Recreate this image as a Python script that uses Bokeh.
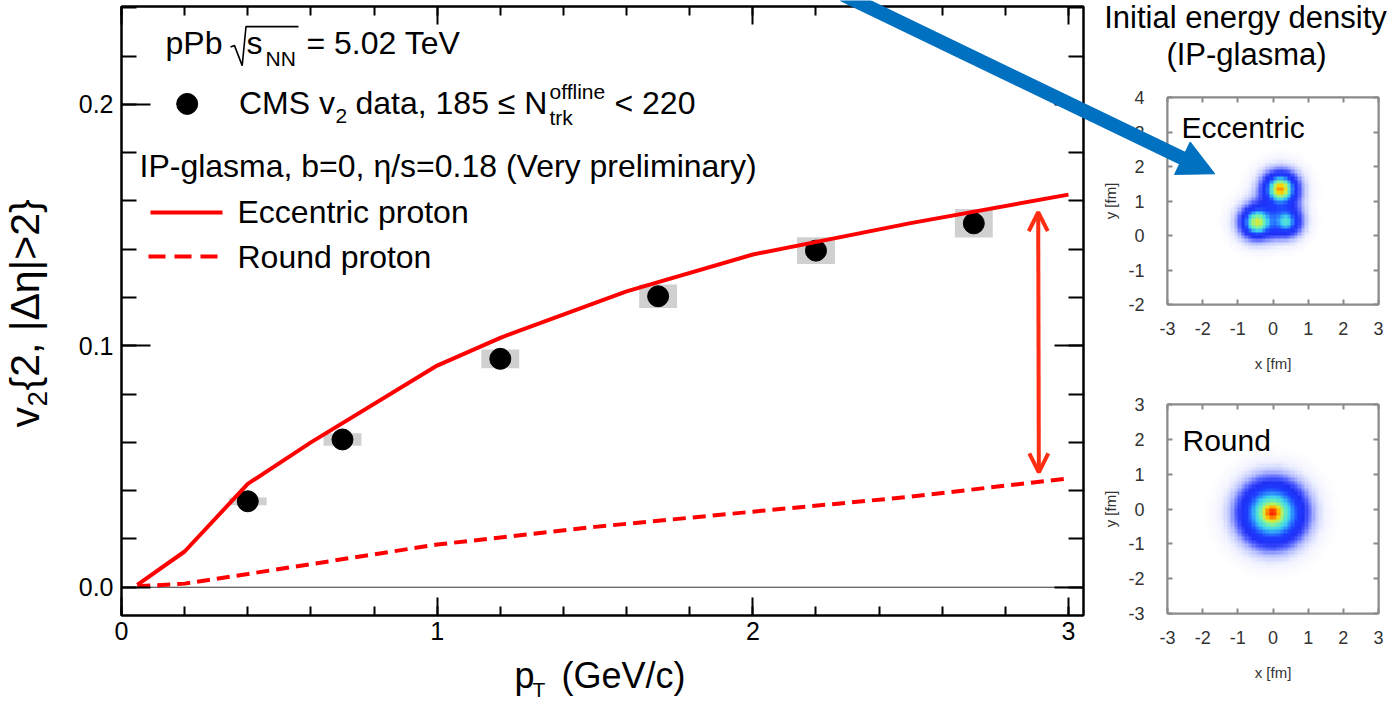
import numpy as np
from bokeh.plotting import figure
from bokeh.models import (Range1d, LinearAxis, FixedTicker, NumeralTickFormatter, GridBox,
                          Label, Span, Arrow, NormalHead, OpenHead, LinearColorMapper,
                          CustomLabelingPolicy)
from bokeh.layouts import row, column
from bokeh.embed import file_html
from bokeh.resources import INLINE

FONT = "Liberation Sans"
RED = "#ff0000"
ARROW_RED = "#ff2d12"
BLUE = "#0070c0"
K_BASE = 0.34   # empirical shift between label anchor and drawn baseline (in em)

# ------------------------------------------------------------------ data
pt_data = [0.4, 0.7, 1.2, 1.7, 2.2, 2.7]
v2_data = [0.0356, 0.0612, 0.0946, 0.1205, 0.1394, 0.1507]
v2_sys = [0.0016, 0.0026, 0.0039, 0.0049, 0.0055, 0.0059]
pt_sys_halfwidth = [0.06, 0.06, 0.06, 0.06, 0.06, 0.06]

pt_eccentric = [0.05, 0.2, 0.4, 0.6, 1.0, 1.2, 1.6, 2.0, 2.5, 3.0]
v2_eccentric = [0.001, 0.0148, 0.0428, 0.060, 0.0918, 0.1033, 0.1225, 0.1378, 0.1508, 0.1626]

pt_round = [0.05, 0.2, 0.4, 1.0, 1.5, 2.0, 2.5, 3.0]
v2_round = [0.0004, 0.0015, 0.0055, 0.0177, 0.0250, 0.0313, 0.0375, 0.0451]

x_major_ticks = [0, 1, 2, 3]
y_major_ticks = [0.0, 0.1, 0.2]
fm_ticks = [-3, -2, -1, 0, 1, 2, 3]
fm_ticks_top = [-2, -1, 0, 1, 2, 3, 4]

# hot spots of the initial energy density (fm, relative amplitude)
ecc_hx = [0.21, -0.45, 0.38]
ecc_hy = [1.35, 0.39, 0.40]
ecc_core_amp = [0.50, 0.38, 0.18]
ecc_core_sig = [0.20, 0.20, 0.16]
ecc_base_amp = [0.38, 0.34, 0.30]
ecc_base_sig = [0.38, 0.37, 0.33]

rnd_hx = [-0.02]
rnd_hy = [-0.12]
rnd_core_amp = [0.38]
rnd_core_sig = [0.18]
rnd_base_amp = [0.62]
rnd_base_sig = [0.60]

# colour scale (white -> blue -> cyan -> yellow -> red)
cmap_anchors = [(0.00, "#ffffff"), (0.03, "#eef0ff"), (0.08, "#b4bcff"), (0.14, "#5060ff"),
                (0.20, "#2030f5"), (0.30, "#1c3cff"), (0.38, "#2a80ff"), (0.46, "#3ed2f0"),
                (0.58, "#70f0b0"), (0.70, "#c8f050"), (0.80, "#ffd200"), (0.90, "#ff7800"),
                (1.00, "#ff1a00")]


def h2rgb(h):
    return [int(h[i:i + 2], 16) for i in (1, 3, 5)]


palette = []
for k in range(256):
    t = k / 255
    for (t0, c0), (t1, c1) in zip(cmap_anchors[:-1], cmap_anchors[1:]):
        if t0 <= t <= t1:
            f = (t - t0) / (t1 - t0)
            a, b = h2rgb(c0), h2rgb(c1)
            palette.append("#%02x%02x%02x" % tuple(int(round(a[i] + f * (b[i] - a[i]))) for i in range(3)))
            break
mapper = LinearColorMapper(palette=palette, low=0, high=1)


def density(xc, yc, hx, hy, ca, cs, ba, bs):
    X, Y = np.meshgrid(xc, yc)
    f = np.zeros_like(X)
    for i in range(len(hx)):
        r2 = (X - hx[i]) ** 2 + (Y - hy[i]) ** 2
        f += ca[i] * np.exp(-r2 / (2 * cs[i] ** 2)) + ba[i] * np.exp(-r2 / (2 * bs[i] ** 2))
    return np.clip(f, 0, 1)


NO_LABELS = """
const out = []
for (const i of indices) out.push(i)
for (const i of out) indices.unset(i)
return indices
"""


# ------------------------------------------------------------------ helpers
def add_axis(fig, side, ticks, minor, tin, mtin, labels, size="25px", standoff=8,
             color="black", lwidth=2, label_color="black", **kw):
    ax = LinearAxis(ticker=FixedTicker(ticks=ticks, minor_ticks=minor))
    ax.axis_line_width = lwidth
    ax.axis_line_color = color
    ax.major_tick_line_color = color
    ax.minor_tick_line_color = color
    ax.major_tick_in = tin
    ax.major_tick_out = 0
    ax.minor_tick_in = mtin
    ax.minor_tick_out = 0
    ax.major_tick_line_width = lwidth
    ax.minor_tick_line_width = lwidth
    ax.major_label_text_font = FONT
    ax.major_label_text_color = label_color
    ax.axis_label_text_font = FONT
    ax.axis_label_text_font_style = "normal"
    if labels:
        ax.major_label_text_font_size = size
        ax.major_label_standoff = standoff
    else:
        ax.major_label_policy = CustomLabelingPolicy(code=NO_LABELS)
        ax.major_label_text_font_size = "0px"
        ax.major_label_standoff = 0
        ax.axis_label_standoff = 0
    for k, v in kw.items():
        setattr(ax, k, v)
    fig.add_layout(ax, side)
    return ax


def txt(fig, x, y, s, size, align="left", angle=0.0, color="black"):
    fig.add_layout(Label(x=x, y=y, text=s, text_font=FONT, text_font_size=f"{size}px",
                         text_color=color, text_align=align, text_baseline="alphabetic",
                         angle=angle))


# ------------------------------------------------------------------ main plot
p = figure(width=1090, height=704, x_range=Range1d(0, 3.0475), y_range=Range1d(-0.0117, 0.2405),
           x_axis_type=None, y_axis_type=None, output_backend="svg", toolbar_location=None,
           min_border_left=121, min_border_right=7, min_border_top=6, min_border_bottom=89)
p.outline_line_color = "black"
p.outline_line_width = 2
p.background_fill_color = "white"
p.border_fill_color = "white"

x_minor = list(np.round(np.arange(0, 3.05, 0.2), 2))
y_minor = list(np.round(np.arange(0, 0.241, 0.02), 3))

add_axis(p, "below", x_major_ticks, x_minor, 18, 9, True, standoff=6)
add_axis(p, "above", x_major_ticks, x_minor, 18, 9, False)
add_axis(p, "left", y_major_ticks, y_minor, 29, 15, True, standoff=8,
         formatter=NumeralTickFormatter(format="0.0"))
add_axis(p, "right", y_major_ticks, y_minor, 29, 15, False)

zero = Span(location=0, dimension="width", line_color="#333333", line_width=1.2, level="underlay")
p.add_layout(zero)

p.rect(x=pt_data, y=v2_data, width=[2 * w for w in pt_sys_halfwidth],
       height=[2 * s for s in v2_sys], fill_color="#d0d0d0", line_color=None)
p.scatter(pt_data, v2_data, size=21, fill_color="black", line_color="black")
p.line(pt_eccentric, v2_eccentric, line_color=RED, line_width=4)
p.line(pt_round, v2_round, line_color=RED, line_width=4, line_dash="13 7")


# pixel -> data helpers for annotation placement in the main plot
def dx(X):
    return (X - 121.0) / 315.67


def dy(Y):
    return (586.7 - Y) / 2415.0


def ptxt(X, Y, s, size):
    txt(p, dx(X), dy(Y - K_BASE * size), s, size)


# legend / annotation texts (inside the frame); Y = baseline in pixels
ptxt(165, 53, "pPb", 32)
p.line([dx(230), dx(234), dx(241.7), dx(245.5), dx(298)],
       [dy(46.5), dy(45), dy(65), dy(26), dy(26)], line_color="black", line_width=1.6)
ptxt(246, 53, "s", 32)
ptxt(265, 65, "NN", 21)
ptxt(306, 53, "= 5.02 TeV", 32)

p.scatter([dx(186.7)], [dy(103.3)], size=21, fill_color="black", line_color="black")
ptxt(238.5, 113, "CMS v", 32)
ptxt(335, 123, "2", 21)
ptxt(355, 113, "data, 185 \u2264 N", 32)
ptxt(549, 98, "offline", 21)
ptxt(549, 124, "trk", 21)
ptxt(614, 113, "< 220", 32)

ptxt(139, 176, "IP-glasma, b=0, \u03b7/s=0.18 (Very preliminary)", 32)
p.line([dx(150), dx(222)], [dy(212), dy(212)], line_color=RED, line_width=4)
ptxt(237, 222, "Eccentric proton", 32)
p.line([dx(148), dx(217)], [dy(256), dy(256)], line_color=RED, line_width=4, line_dash="17 9")
ptxt(237, 267, "Round proton", 32)

# red double arrow (gap between the two calculations)
p.add_layout(Arrow(start=OpenHead(size=19, line_color=ARROW_RED, line_width=4),
                   end=OpenHead(size=19, line_color=ARROW_RED, line_width=4),
                   x_start=2.906, y_start=0.0476, x_end=2.904, y_end=0.1553,
                   line_color=ARROW_RED, line_width=4))


# ------------------------------------------------------------------ inset panels
def make_panel(yr, height, top, bottom, yticks):
    f = figure(width=309, height=height, x_range=Range1d(-3, 3), y_range=Range1d(*yr),
               x_axis_type=None, y_axis_type=None, output_backend="svg", toolbar_location=None,
               min_border_left=77, min_border_right=21, min_border_top=top, min_border_bottom=bottom)
    f.outline_line_color = "#8a8a8a"
    f.outline_line_width = 2
    f.background_fill_color = "white"
    f.border_fill_color = "white"
    common = dict(color="#8a8a8a", lwidth=2, label_color="#333333")
    add_axis(f, "below", fm_ticks, [], 5, 0, True, size="18px", standoff=17,
             axis_label="x [fm]", axis_label_text_font_size="15px",
             axis_label_text_color="#333333", axis_label_standoff=17,
             major_label_overrides={t: str(t) for t in fm_ticks}, **common)
    add_axis(f, "left", yticks, [], 5, 0, True, size="18px", standoff=23,
             axis_label="y [fm]", axis_label_text_font_size="15px",
             axis_label_text_color="#333333", axis_label_standoff=6,
             major_label_overrides={t: str(t) for t in yticks}, **common)
    add_axis(f, "above", fm_ticks, [], 5, 0, False, **common)
    add_axis(f, "right", yticks, [], 5, 0, False, **common)
    return f


cell = 0.1
xc = np.arange(-3 + cell / 2, 3, cell)

pa = make_panel((-2, 4), 380, 97, 76, fm_ticks_top)
yc_a = np.arange(-2 + cell / 2, 4, cell)
img_a = density(xc, yc_a, ecc_hx, ecc_hy, ecc_core_amp, ecc_core_sig, ecc_base_amp, ecc_base_sig)
pa.image(image=[img_a], x=-3, y=-2, dw=6, dh=6, color_mapper=mapper)


def ax_(X):
    return -3 + (X - 1167.0) / 35.17


def ay_(Y):
    return 4 - (Y - 97.0) / 34.5


txt(pa, ax_(1181), ay_(137 - K_BASE * 30), "Eccentric", 30)

pb = make_panel((-3, 3), 324, 24, 91, fm_ticks)
yc_b = np.arange(-3 + cell / 2, 3, cell)
img_b = density(xc, yc_b, rnd_hx, rnd_hy, rnd_core_amp, rnd_core_sig, rnd_base_amp, rnd_base_sig)
pb.image(image=[img_b], x=-3, y=-3, dw=6, dh=6, color_mapper=mapper)


def by_(Y):
    return 3 - (Y - 404.0) / 34.83


txt(pb, ax_(1182), by_(450 - K_BASE * 30), "Round", 30)

# ------------------------------------------------------------------ overlay (texts outside frames, blue arrow)
ov = figure(width=1399, height=704, x_range=Range1d(0, 1399), y_range=Range1d(0, 704),
            x_axis_type=None, y_axis_type=None, output_backend="svg", toolbar_location=None,
            min_border=0)
ov.background_fill_alpha = 0
ov.border_fill_alpha = 0
ov.outline_line_color = None


def otxt(X, Y, s, size, align="left", rotated=False):
    if rotated:
        txt(ov, X - K_BASE * size, 704 - Y, s, size, align=align, angle=np.pi / 2)
    else:
        txt(ov, X, 704 - (Y - K_BASE * size), s, size, align=align)


# axis titles of the main plot (X, Y = start of baseline in pixels)
otxt(514, 687, "p", 36)
otxt(532, 696, "T", 21)
otxt(561, 687, "(GeV/c)", 36)
otxt(38, 427, "v", 41, rotated=True)
otxt(47, 406, "2", 28, rotated=True)
otxt(38, 390, "{2, |\u0394\u03b7|>2}", 41, rotated=True)

# title of the inset panels
otxt(1245, 28, "Initial energy density", 31, align="center")
otxt(1246, 65, "(IP-glasma)", 31, align="center")

# blue arrow pointing at the eccentric proton
ov.add_layout(Arrow(end=NormalHead(size=36, fill_color=BLUE, line_color=BLUE, line_width=1),
                    x_start=842.5, y_start=704 + 5.9, x_end=1214.3, y_end=704 - 173.3,
                    line_color=BLUE, line_width=14))

main_layout = row(p, column(pa, pb))
root = GridBox(children=[(main_layout, 0, 0), (ov, 0, 0)])
open("out.html", "w").write(file_html(root, INLINE))
